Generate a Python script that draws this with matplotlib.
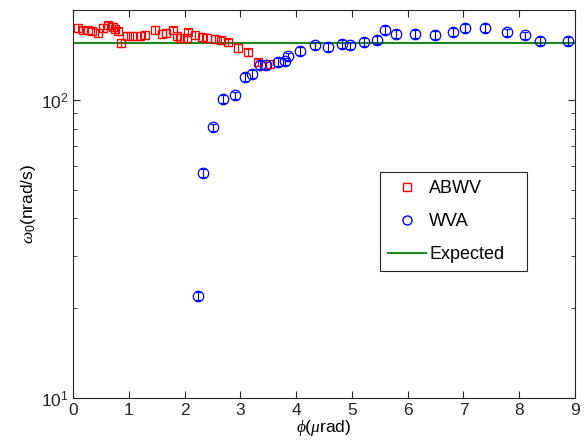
import numpy as np
import matplotlib
matplotlib.use("Agg")
import matplotlib.pyplot as plt
from matplotlib.lines import Line2D
from matplotlib.ticker import LogLocator, NullFormatter

plt.rcParams['font.family'] = ['Liberation Sans', 'DejaVu Sans']
plt.rcParams['mathtext.fontset'] = 'custom'
plt.rcParams['mathtext.rm'] = 'Liberation Sans'
plt.rcParams['mathtext.it'] = 'Liberation Serif:italic'

# ---------- data ----------
abwv_phi = [0.095, 0.185, 0.274, 0.335, 0.453, 0.543, 0.633, 0.722, 0.753, 0.812,
            0.86, 0.962, 1.081, 1.20, 1.29, 1.47, 1.59, 1.67, 1.80, 1.86,
            1.92, 2.04, 2.07, 2.19, 2.31, 2.40, 2.54, 2.66, 2.78, 2.96,
            3.14, 3.32, 3.53]
abwv_w0 = [174.0, 170.8, 170.8, 169.5, 167.4, 174.0, 177.5, 175.4, 172.7, 169.5,
           154.9, 164.0, 164.0, 164.0, 165.2, 171.8, 166.5, 167.4, 170.8, 164.0,
           161.1, 161.1, 168.2, 165.2, 162.4, 161.1, 159.9, 158.2, 155.8, 149.1,
           144.1, 133.4, 131.8]

wva_phi = [2.245, 2.335, 2.504, 2.694, 2.903, 3.082, 3.213, 3.351, 3.459, 3.679,
           3.80, 3.858, 4.068, 4.337, 4.575, 4.815, 4.964, 5.215, 5.443, 5.591,
           5.789, 6.129, 6.487, 6.815, 7.025, 7.384, 7.772, 8.10, 8.369, 8.876]
wva_w0 = [22.0, 56.8, 80.8, 100.5, 103.4, 119.2, 122.2, 131.1, 130.4, 133.8,
          134.4, 139.8, 146.0, 152.1, 150.3, 153.8, 152.1, 156.2, 159.0, 171.8,
          166.2, 166.5, 165.2, 168.7, 174.0, 174.0, 168.2, 164.4, 157.8, 157.8]

expected_w0 = 155.0
rel_err = 0.03

abwv_phi = np.array(abwv_phi); abwv_w0 = np.array(abwv_w0)
wva_phi = np.array(wva_phi); wva_w0 = np.array(wva_w0)

green = '#1a8a1a'
grey = '#262626'

# ---------- plot ----------
fig = plt.figure(figsize=(5.87, 4.41), dpi=100)
ax = fig.add_axes([0.1244, 0.0975, 0.8552, 0.8798])

ax.axhline(expected_w0, color=green, lw=1.5, zorder=2)
ax.errorbar(abwv_phi, abwv_w0, yerr=rel_err * abwv_w0, fmt='s', mfc='none', mec='red',
            ecolor='red', ms=6.3, mew=0.9, elinewidth=0.8, capsize=2.0, capthick=0.8,
            zorder=3)
ax.errorbar(wva_phi, wva_w0, yerr=rel_err * wva_w0, fmt='o', mfc='none', mec='blue',
            ecolor='blue', ms=7.5, mew=0.9, elinewidth=0.8, capsize=2.0, capthick=0.8,
            zorder=3)

ax.set_yscale('log')
ax.set_xlim(0, 9)
ax.set_ylim(10, 200)
ax.set_xticks(range(0, 10))
ax.yaxis.set_major_locator(LogLocator(base=10, numticks=5))
ax.yaxis.set_minor_locator(LogLocator(base=10, subs=np.arange(2, 10), numticks=10))
ax.yaxis.set_minor_formatter(NullFormatter())

for s in ax.spines.values():
    s.set_color(grey); s.set_linewidth(0.8)
ax.tick_params(which='both', direction='in', top=True, right=True, colors=grey,
               labelcolor='#262626', labelsize=12.5)
ax.tick_params(which='major', length=5)
ax.tick_params(which='minor', length=3)

ax.set_xlabel(r'$\phi$($\mu$rad)', fontsize=12.5, labelpad=0)
ax.set_ylabel(r'$\omega_0$(nrad/s)', fontsize=12.5, labelpad=2)

handles = [Line2D([], [], ls='none', marker='s', mfc='none', mec='red', ms=6, mew=1.0),
           Line2D([], [], ls='none', marker='o', mfc='none', mec='blue', ms=6.5, mew=1.0),
           Line2D([], [], color=green, lw=1.5)]
labels = ['ABWV', 'WVA', 'Expected']
leg = ax.legend(handles, labels, loc='upper left', mode='expand',
                bbox_to_anchor=(0.611, 0.325, 0.293, 0.2575),
                fontsize=13, fancybox=False, framealpha=1, edgecolor=grey,
                borderpad=0.45, labelspacing=0.88, handlelength=2.1, handletextpad=0.2,
                borderaxespad=0)
leg.get_frame().set_linewidth(0.8)

fig.savefig('out.png', dpi=100)
